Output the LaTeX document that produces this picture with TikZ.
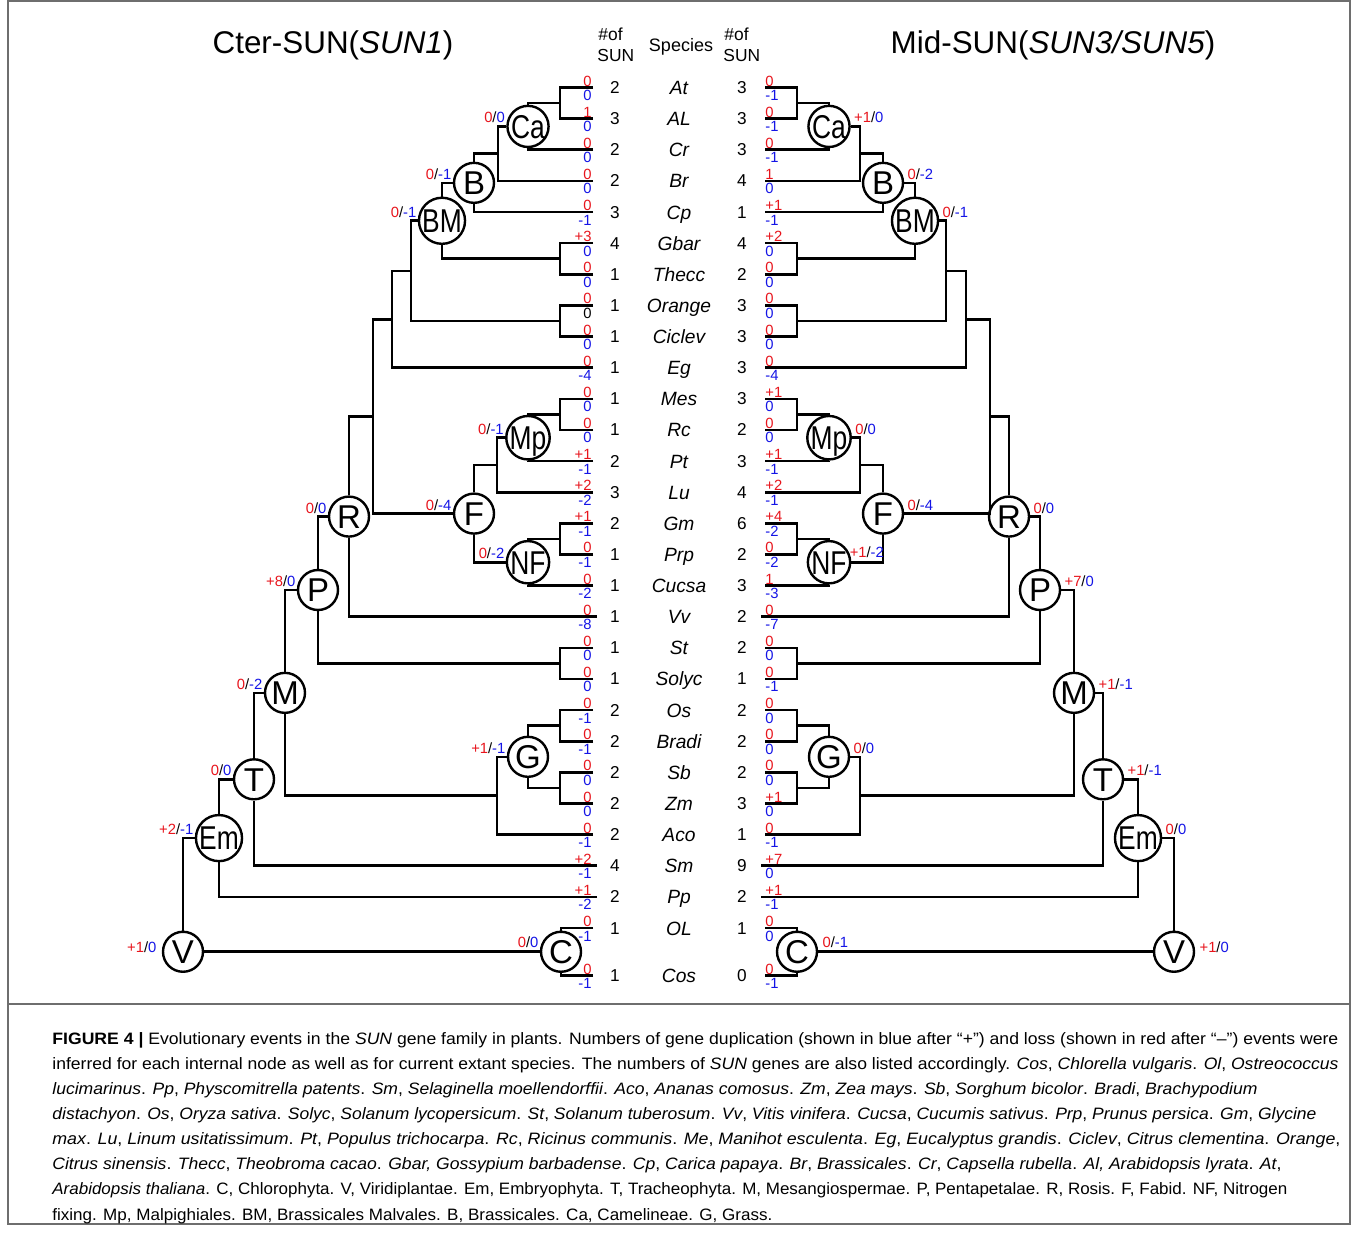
\documentclass[tikz,border=0pt]{standalone}
\usepackage{fontspec}
\setmainfont{Liberation Sans}
\usepackage{graphicx}
\usetikzlibrary{calc}
\definecolor{nred}{RGB}{232,20,28}
\definecolor{nblue}{RGB}{20,20,230}
\definecolor{framegray}{RGB}{110,110,110}
\newcommand\setfs[1]{\fontsize{#1}{#1}\selectfont}
\newcommand\ev[2]{\textcolor{nred}{#1}/\textcolor{nblue}{#2}}
\newsavebox\capbox
\newcommand\capline[2]{\sbox\capbox{#2}\pgfmathsetmacro\capsx{#1/\the\wd\capbox}\scalebox{\capsx}[1]{\usebox\capbox}}
\newcommand\bnode[4]{\coordinate (tmpx) at (#2,0);\coordinate (tmpm) at ($(#3)!0.5!(#4)$);\coordinate (#1) at (tmpm -| tmpx);}
\newcommand\cnode[5]{\coordinate (tmpx) at (#2,0);\coordinate (tmpm) at ($(#3)!0.5!(#4)$);\node[circ] (#1) at (tmpm -| tmpx) {#5};}
\newcommand\jn[3]{\draw[tl] (#2) -| (#1) (#3) -| (#1);}
\newcommand\evL[3]{\node[evl,anchor=base east] (ev#1) at ($(#1.west)+(-1,-3.5)$) {\ev{#2}{#3}};}
\newcommand\evR[3]{\node[evl,anchor=base west] (ev#1) at ($(#1.east)+(3,-3.5)$) {\ev{#2}{#3}};}
\newcommand\sq[1]{\scalebox{0.8}[1]{#1}}
\begin{document}
\begin{tikzpicture}[x=0.5pt,y=-0.5pt,
  tl/.style={line width=1.3pt,line join=miter},
  circ/.style={circle,draw,fill=white,minimum size=20pt,inner sep=0pt,line width=1.2pt,font=\setfs{16.5},text height=11.8pt,text depth=0pt},
  evl/.style={font=\setfs{7.4},inner sep=0pt},
  lnum/.style={font=\setfs{7.4},inner sep=0pt},
  spc/.style={font=\setfs{9.6}\itshape,inner sep=0pt,anchor=base},
  cnt/.style={font=\setfs{8.6},inner sep=0pt,anchor=base},
  capf/.style={font=\setfs{8.25},anchor=base west,inner sep=0pt}]
\useasboundingbox (0,0) rectangle (1358,1232);
\fill[white] (0,0) rectangle (1358,1232);
\draw[framegray,line width=0.6pt] (8,1) rectangle (1350,1224);
\draw[framegray,line width=0.6pt] (8,1004) -- (1350,1004);
% headers
\node[font=\setfs{15.7},anchor=base,inner sep=0pt] (hL) at (333,53) {Cter-SUN(\textit{SUN1})};
\node[font=\setfs{15.7},anchor=base,inner sep=0pt] (hR) at (1053,53) {Mid-SUN(\textit{SUN3/SUN5})};
\node[font=\setfs{8.7},anchor=base west,inner sep=0pt] (hn1) at (598,40) {\#of};
\node[font=\setfs{8.7},anchor=base west,inner sep=0pt] (hs1) at (597,61) {SUN};
\node[font=\setfs{9},anchor=base,inner sep=0pt] (hsp) at (681,51) {Species};
\node[font=\setfs{8.7},anchor=base west,inner sep=0pt] (hn2) at (724,40) {\#of};
\node[font=\setfs{8.7},anchor=base west,inner sep=0pt] (hs2) at (723,61) {SUN};
% species rows
\foreach \i/\y/\sp/\lc/\lt/\lb/\rc/\rt/\rb in {
0/87.5/At/2/0/0/3/0/-1,
1/118.63/AL/3/1/0/3/0/-1,
2/149.76/Cr/2/0/0/3/0/-1,
3/180.89/Br/2/0/0/4/1/0,
4/212.02/Cp/3/0/-1/1/+1/-1,
5/243.15/Gbar/4/+3/0/4/+2/0,
6/274.28/Thecc/1/0/0/2/0/0,
7/305.41/Orange/1/0/\textcolor{black}{0}/3/0/0,
8/336.54/Ciclev/1/0/0/3/0/0,
9/367.67/Eg/1/0/-4/3/0/-4,
10/398.8/Mes/1/0/0/3/+1/0,
11/429.93/Rc/1/0/0/2/0/0,
12/461.06/Pt/2/+1/-1/3/+1/-1,
13/492.19/Lu/3/+2/-2/4/+2/-1,
14/523.32/Gm/2/+1/-1/6/+4/-2,
15/554.45/Prp/1/0/-1/2/0/-2,
16/585.58/Cucsa/1/0/-2/3/1/-3,
17/616.71/Vv/1/0/-8/2/0/-7,
18/647.84/St/1/0/0/2/0/0,
19/678.97/Solyc/1/0/0/1/0/-1,
20/710.1/Os/2/0/-1/2/0/0,
21/741.23/Bradi/2/0/-1/2/0/0,
22/772.36/Sb/2/0/0/2/0/0,
23/803.49/Zm/2/0/0/3/+1/0,
24/834.62/Aco/2/0/-1/1/0/-1,
25/865.75/Sm/4/+2/-1/9/+7/0,
26/896.88/Pp/2/+1/-2/2/+1/-1,
27/928.01/OL/1/0/-1/1/0/0,
28/975.5/Cos/1/0/-1/0/0/-1}{
\coordinate (L\i) at (593,\y);
\coordinate (R\i) at (765,\y);
\node[spc] (sp\i) at (679,\y+7) {\sp};
\node[cnt] (lc\i) at (615,\y+6) {\lc};
\node[cnt] (rc\i) at (742,\y+6) {\rc};
\node[lnum,anchor=base east,text=nred] (lt\i) at (592,\y-1.5) {\lt};
\node[lnum,anchor=base east,text=nblue] (lb\i) at (592,\y+13) {\lb};
\node[lnum,anchor=base west,text=nred] (rt\i) at (765,\y-1.5) {\rt};
\node[lnum,anchor=base west,text=nblue] (rb\i) at (765,\y+13) {\rb};
}
\coordinate (L17) at (597,616.71);
\coordinate (L25) at (597,865.75);
\coordinate (L26) at (597,896.88);
\coordinate (R17) at (761,616.71);
\coordinate (R25) at (761,865.75);
\coordinate (R26) at (761,896.88);
% left tree nodes
\bnode{lAtAL}{560}{L0}{L1}
\cnode{lCa}{528}{lAtAL}{L2}{\sq{Ca}}
\bnode{lCaBr}{498}{lCa}{L3}
\cnode{lB}{474}{lCaBr}{L4}{B}
\bnode{lGT}{560}{L5}{L6}
\cnode{lBM}{442}{lB}{lGT}{\sq{BM}}
\bnode{lOC}{560}{L7}{L8}
\bnode{lBMOC}{411}{lBM}{lOC}
\bnode{lMalv}{392}{lBMOC}{L9}
\bnode{lMR}{560}{L10}{L11}
\cnode{lMp}{528}{lMR}{L12}{\sq{Mp}}
\bnode{lMpLu}{497}{lMp}{L13}
\bnode{lGP}{560}{L14}{L15}
\cnode{lNF}{528}{lGP}{L16}{\sq{NF}}
\cnode{lF}{474}{lMpLu}{lNF}{F}
\bnode{lX}{373}{lMalv}{lF}
\cnode{lR}{349}{lX}{L17}{R}
\bnode{lSS}{560}{L18}{L19}
\cnode{lP}{318}{lR}{lSS}{P}
\bnode{lOB}{560}{L20}{L21}
\bnode{lSZ}{560}{L22}{L23}
\cnode{lG}{528}{lOB}{lSZ}{G}
\bnode{lGA}{497}{lG}{L24}
\cnode{lM}{285}{lP}{lGA}{M}
\cnode{lT}{254}{lM}{L25}{T}
\cnode{lEm}{219}{lT}{L26}{\sq{Em}}
\cnode{lC}{561}{L27}{L28}{C}
\coordinate (tmpx) at (183,0);
\node[circ] (lV) at (lC -| tmpx) {V};
% right tree nodes
\bnode{rAtAL}{797}{R0}{R1}
\cnode{rCa}{829}{rAtAL}{R2}{\sq{Ca}}
\bnode{rCaBr}{860}{rCa}{R3}
\cnode{rB}{883}{rCaBr}{R4}{B}
\bnode{rGT}{797}{R5}{R6}
\cnode{rBM}{915}{rB}{rGT}{\sq{BM}}
\bnode{rOC}{797}{R7}{R8}
\bnode{rBMOC}{946}{rBM}{rOC}
\bnode{rMalv}{966}{rBMOC}{R9}
\bnode{rMR}{797}{R10}{R11}
\cnode{rMp}{829}{rMR}{R12}{\sq{Mp}}
\bnode{rMpLu}{860}{rMp}{R13}
\bnode{rGP}{797}{R14}{R15}
\cnode{rNF}{829}{rGP}{R16}{\sq{NF}}
\cnode{rF}{883}{rMpLu}{rNF}{F}
\bnode{rX}{990}{rMalv}{rF}
\cnode{rR}{1009}{rX}{R17}{R}
\bnode{rSS}{797}{R18}{R19}
\cnode{rP}{1040}{rR}{rSS}{P}
\bnode{rOB}{797}{R20}{R21}
\bnode{rSZ}{797}{R22}{R23}
\cnode{rG}{829}{rOB}{rSZ}{G}
\bnode{rGA}{860}{rG}{R24}
\cnode{rM}{1074}{rP}{rGA}{M}
\cnode{rT}{1103}{rM}{R25}{T}
\cnode{rEm}{1138}{rT}{R26}{\sq{Em}}
\cnode{rC}{797}{R27}{R28}{C}
\coordinate (tmpx) at (1174,0);
\node[circ] (rV) at (rC -| tmpx) {V};
% left connectors
\jn{lAtAL}{L0}{L1}
\jn{lCa}{lAtAL}{L2}
\jn{lCaBr}{lCa}{L3}
\jn{lB}{lCaBr}{L4}
\jn{lGT}{L5}{L6}
\jn{lBM}{lB}{lGT}
\jn{lOC}{L7}{L8}
\jn{lBMOC}{lBM}{lOC}
\jn{lMalv}{lBMOC}{L9}
\jn{lMR}{L10}{L11}
\jn{lMp}{lMR}{L12}
\jn{lMpLu}{lMp}{L13}
\jn{lGP}{L14}{L15}
\jn{lNF}{lGP}{L16}
\jn{lF}{lMpLu}{lNF}
\jn{lX}{lMalv}{lF}
\jn{lR}{lX}{L17}
\jn{lSS}{L18}{L19}
\jn{lP}{lR}{lSS}
\jn{lOB}{L20}{L21}
\jn{lSZ}{L22}{L23}
\jn{lG}{lOB}{lSZ}
\jn{lGA}{lG}{L24}
\jn{lM}{lP}{lGA}
\jn{lT}{lM}{L25}
\jn{lEm}{lT}{L26}
\jn{lC}{L27}{L28}
\draw[tl] (lEm) -| (lV);
\draw[tl] (lV) -- (lC);
% right connectors
\jn{rAtAL}{R0}{R1}
\jn{rCa}{rAtAL}{R2}
\jn{rCaBr}{rCa}{R3}
\jn{rB}{rCaBr}{R4}
\jn{rGT}{R5}{R6}
\jn{rBM}{rB}{rGT}
\jn{rOC}{R7}{R8}
\jn{rBMOC}{rBM}{rOC}
\jn{rMalv}{rBMOC}{R9}
\jn{rMR}{R10}{R11}
\jn{rMp}{rMR}{R12}
\jn{rMpLu}{rMp}{R13}
\jn{rGP}{R14}{R15}
\jn{rNF}{rGP}{R16}
\jn{rF}{rMpLu}{rNF}
\jn{rX}{rMalv}{rF}
\jn{rR}{rX}{R17}
\jn{rSS}{R18}{R19}
\jn{rP}{rR}{rSS}
\jn{rOB}{R20}{R21}
\jn{rSZ}{R22}{R23}
\jn{rG}{rOB}{rSZ}
\jn{rGA}{rG}{R24}
\jn{rM}{rP}{rGA}
\jn{rT}{rM}{R25}
\jn{rEm}{rT}{R26}
\jn{rC}{R27}{R28}
\draw[tl] (rEm) -| (rV);
\draw[tl] (rV) -- (rC);
% event labels
\evL{lCa}{0}{0}
\evL{lB}{0}{-1}
\evL{lBM}{0}{-1}
\evL{lMp}{0}{-1}
\evL{lF}{0}{-4}
\evL{lNF}{0}{-2}
\evL{lR}{0}{0}
\evL{lP}{+8}{0}
\evL{lM}{0}{-2}
\evL{lT}{0}{0}
\evL{lEm}{+2}{-1}
\evL{lG}{+1}{-1}
\node[evl,anchor=base east] (evlC) at ($(lC.west)+(-1,-4)$) {\ev{0}{0}};
\node[evl,anchor=base east] (evlV) at ($(lV.west)+(-5,1)$) {\ev{+1}{0}};
\evR{rCa}{+1}{0}
\evR{rB}{0}{-2}
\evR{rBM}{0}{-1}
\evR{rMp}{0}{0}
\evR{rF}{0}{-4}
\node[evl,anchor=base west] (evrNF) at ($(rNF.east)+(-2,-5)$) {\ev{+1}{-2}};
\evR{rR}{0}{0}
\evR{rP}{+7}{0}
\evR{rM}{+1}{-1}
\evR{rT}{+1}{-1}
\evR{rEm}{0}{0}
\evR{rG}{0}{0}
\node[evl,anchor=base west] (evrC) at ($(rC.east)+(4,-4)$) {\ev{0}{-1}};
\node[evl,anchor=base west] (evrV) at ($(rV.east)+(4,1)$) {\ev{+1}{0}};
% caption
\node[capf] (cap1) at (52,1044) {\capline{643}{\textbf{FIGURE 4 |} Evolutionary events in the \textit{SUN} gene family in plants. Numbers of gene duplication (shown in blue after “+”) and loss (shown in red after “–”) events were}};
\node[capf] (cap2) at (52,1069) {\capline{643}{inferred for each internal node as well as for current extant species. The numbers of \textit{SUN} genes are also listed accordingly. \textit{Cos}, \textit{Chlorella vulgaris}. \textit{Ol}, \textit{Ostreococcus}}};
\node[capf] (cap3) at (52,1094) {\capline{602.5}{\textit{lucimarinus}. \textit{Pp}, \textit{Physcomitrella patents}. \textit{Sm}, \textit{Selaginella moellendorffii}. \textit{Aco}, \textit{Ananas comosus}. \textit{Zm}, \textit{Zea mays}. \textit{Sb}, \textit{Sorghum bicolor}. \textit{Bradi}, \textit{Brachypodium}}};
\node[capf] (cap4) at (52,1119) {\capline{632}{\textit{distachyon}. \textit{Os}, \textit{Oryza sativa}. \textit{Solyc}, \textit{Solanum lycopersicum}. \textit{St}, \textit{Solanum tuberosum}. \textit{Vv}, \textit{Vitis vinifera}. \textit{Cucsa}, \textit{Cucumis sativus}. \textit{Prp}, \textit{Prunus persica}. \textit{Gm}, \textit{Glycine}}};
\node[capf] (cap5) at (52,1144) {\capline{644}{\textit{max}. \textit{Lu}, \textit{Linum usitatissimum}. \textit{Pt}, \textit{Populus trichocarpa}. \textit{Rc}, \textit{Ricinus communis}. \textit{Me}, \textit{Manihot esculenta}. \textit{Eg}, \textit{Eucalyptus grandis}. \textit{Ciclev}, \textit{Citrus clementina}. \textit{Orange},}};
\node[capf] (cap6) at (52,1169) {\capline{614.5}{\textit{Citrus sinensis}. \textit{Thecc}, \textit{Theobroma cacao}. \textit{Gbar, Gossypium barbadense}. \textit{Cp}, \textit{Carica papaya}. \textit{Br}, \textit{Brassicales}. \textit{Cr}, \textit{Capsella rubella}. \textit{Al, Arabidopsis lyrata}. \textit{At},}};
\node[capf] (cap7) at (52,1194) {\capline{617.5}{\textit{Arabidopsis thaliana}. C, Chlorophyta. V, Viridiplantae. Em, Embryophyta. T, Tracheophyta. M, Mesangiospermae. P, Pentapetalae. R, Rosis. F, Fabid. NF, Nitrogen}};
\node[capf] (cap8) at (52,1220) {\capline{360}{fixing. Mp, Malpighiales. BM, Brassicales Malvales. B, Brassicales. Ca, Camelineae. G, Grass.}};
\end{tikzpicture}
\end{document}
